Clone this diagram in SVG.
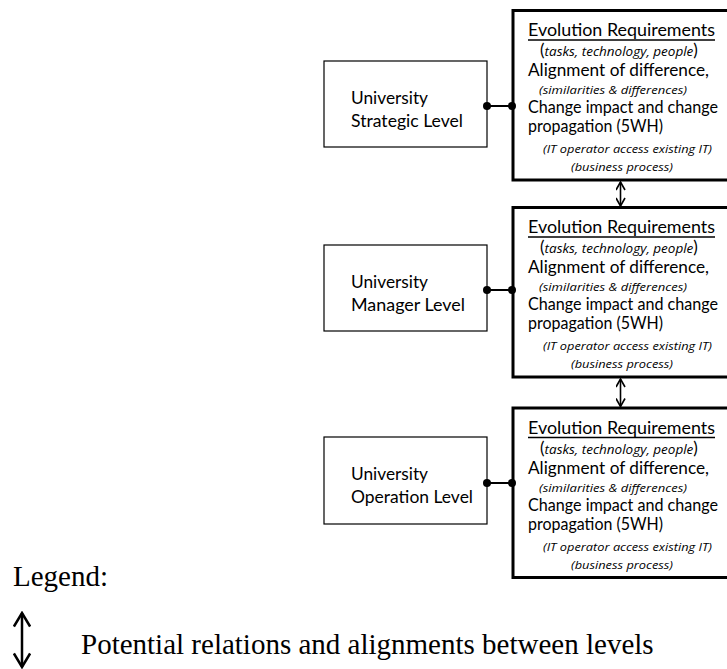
<svg xmlns="http://www.w3.org/2000/svg" width="727" height="669" viewBox="0 0 727 669">
<style>
.sbox{fill:#fff;stroke:#000;stroke-width:1.2}
.bbox{fill:#fff;stroke:#000;stroke-width:3}
.t{font-family:Lato,"Liberation Sans",sans-serif;font-size:17px;fill:#000}
.s{font-family:"Open Sans","Liberation Sans",sans-serif;font-size:11px;font-style:italic;fill:#000}
.ti{font-family:"Open Sans","Liberation Sans",sans-serif;font-style:italic;font-size:13.5px}
.ul{stroke:#000;stroke-width:1.4}
.c{stroke:#000;stroke-width:2;fill:none}
.a{stroke:#000;stroke-width:1.6;fill:none}
.lg{font-family:"Liberation Serif","Times New Roman",serif;font-size:29px;fill:#000}
</style>
<defs>
<marker id="ah" viewBox="0 0 10 10" refX="9" refY="5" markerWidth="10" markerHeight="10" markerUnits="userSpaceOnUse" orient="auto-start-reverse">
<path d="M1,0.5 L9,5 L1,9.5" fill="none" stroke="#000" stroke-width="1.6"/>
</marker>
<marker id="ahl" viewBox="0 0 10 10" refX="9" refY="5" markerWidth="18" markerHeight="18" markerUnits="userSpaceOnUse" orient="auto-start-reverse">
<path d="M1.5,0.5 L9,5 L1.5,9.5" fill="none" stroke="#000" stroke-width="1.4"/>
</marker>
</defs>

<g id="req1">
<rect class="bbox" x="513" y="10.5" width="220" height="169.5"/>
<text class="t" x="528" y="36" textLength="187" lengthAdjust="spacingAndGlyphs">Evolution Requirements</text>
<line class="ul" x1="528" y1="40" x2="715" y2="40"/>
<text class="t" x="540" y="56">(<tspan class="ti">tasks, technology, people</tspan>)</text>
<text class="t" x="528" y="76" textLength="181" lengthAdjust="spacingAndGlyphs">Alignment of difference,</text>
<text class="s" x="539" y="94" textLength="148" lengthAdjust="spacingAndGlyphs">(similarities &amp; differences)</text>
<text class="t" x="528" y="113" textLength="190" lengthAdjust="spacingAndGlyphs">Change impact and change</text>
<text class="t" x="528" y="132" textLength="135" lengthAdjust="spacingAndGlyphs">propagation (5WH)</text>
<text class="s" x="543" y="153" textLength="169" lengthAdjust="spacingAndGlyphs">(IT operator access existing IT)</text>
<text class="s" x="571" y="171" textLength="102" lengthAdjust="spacingAndGlyphs">(business process)</text>
</g>

<g id="req2">
<rect class="bbox" x="513" y="207.5" width="220" height="169.5"/>
<text class="t" x="528" y="233" textLength="187" lengthAdjust="spacingAndGlyphs">Evolution Requirements</text>
<line class="ul" x1="528" y1="237" x2="715" y2="237"/>
<text class="t" x="540" y="253">(<tspan class="ti">tasks, technology, people</tspan>)</text>
<text class="t" x="528" y="273" textLength="181" lengthAdjust="spacingAndGlyphs">Alignment of difference,</text>
<text class="s" x="539" y="291" textLength="148" lengthAdjust="spacingAndGlyphs">(similarities &amp; differences)</text>
<text class="t" x="528" y="310" textLength="190" lengthAdjust="spacingAndGlyphs">Change impact and change</text>
<text class="t" x="528" y="329" textLength="135" lengthAdjust="spacingAndGlyphs">propagation (5WH)</text>
<text class="s" x="543" y="350" textLength="169" lengthAdjust="spacingAndGlyphs">(IT operator access existing IT)</text>
<text class="s" x="571" y="368" textLength="102" lengthAdjust="spacingAndGlyphs">(business process)</text>
</g>

<g id="req3">
<rect class="bbox" x="513" y="408" width="220" height="169.5"/>
<text class="t" x="528" y="433.5" textLength="187" lengthAdjust="spacingAndGlyphs">Evolution Requirements</text>
<line class="ul" x1="528" y1="437.5" x2="715" y2="437.5"/>
<text class="t" x="540" y="453.5">(<tspan class="ti">tasks, technology, people</tspan>)</text>
<text class="t" x="528" y="473.5" textLength="181" lengthAdjust="spacingAndGlyphs">Alignment of difference,</text>
<text class="s" x="539" y="491.5" textLength="148" lengthAdjust="spacingAndGlyphs">(similarities &amp; differences)</text>
<text class="t" x="528" y="510.5" textLength="190" lengthAdjust="spacingAndGlyphs">Change impact and change</text>
<text class="t" x="528" y="529.5" textLength="135" lengthAdjust="spacingAndGlyphs">propagation (5WH)</text>
<text class="s" x="543" y="550.5" textLength="169" lengthAdjust="spacingAndGlyphs">(IT operator access existing IT)</text>
<text class="s" x="571" y="568.5" textLength="102" lengthAdjust="spacingAndGlyphs">(business process)</text>
</g>

<g id="strategic">
<rect class="sbox" x="324" y="61" width="163" height="86"/>
<text class="t" x="351" y="104" textLength="77" lengthAdjust="spacingAndGlyphs">University</text>
<text class="t" x="351" y="127" textLength="112" lengthAdjust="spacingAndGlyphs">Strategic Level</text>
</g>

<g id="manager">
<rect class="sbox" x="324" y="245" width="163" height="86"/>
<text class="t" x="351" y="288" textLength="77" lengthAdjust="spacingAndGlyphs">University</text>
<text class="t" x="351" y="311" textLength="114" lengthAdjust="spacingAndGlyphs">Manager Level</text>
</g>

<g id="operation">
<rect class="sbox" x="324" y="437" width="163" height="87"/>
<text class="t" x="351" y="480" textLength="77" lengthAdjust="spacingAndGlyphs">University</text>
<text class="t" x="351" y="503" textLength="122" lengthAdjust="spacingAndGlyphs">Operation Level</text>
</g>

<g id="connectors">
<line class="c" x1="487" y1="106" x2="512" y2="106"/>
<circle cx="487" cy="106" r="4"/><circle cx="512" cy="106" r="4"/>
<line class="c" x1="487" y1="290" x2="512" y2="290"/>
<circle cx="487" cy="290" r="4"/><circle cx="512" cy="290" r="4"/>
<line class="c" x1="487" y1="483" x2="512" y2="483"/>
<circle cx="487" cy="483" r="4"/><circle cx="512" cy="483" r="4"/>
<line class="a" x1="620.5" y1="182" x2="620.5" y2="206" marker-start="url(#ah)" marker-end="url(#ah)"/>
<line class="a" x1="620.5" y1="379" x2="620.5" y2="406.5" marker-start="url(#ah)" marker-end="url(#ah)"/>
</g>

<g id="legend">
<text class="lg" x="13" y="586">Legend:</text>
<line x1="22" y1="613" x2="22" y2="667" stroke="#000" stroke-width="2.5" marker-start="url(#ahl)" marker-end="url(#ahl)"/>
<text class="lg" x="81" y="654">Potential relations and alignments between levels</text>
</g>
</svg>
